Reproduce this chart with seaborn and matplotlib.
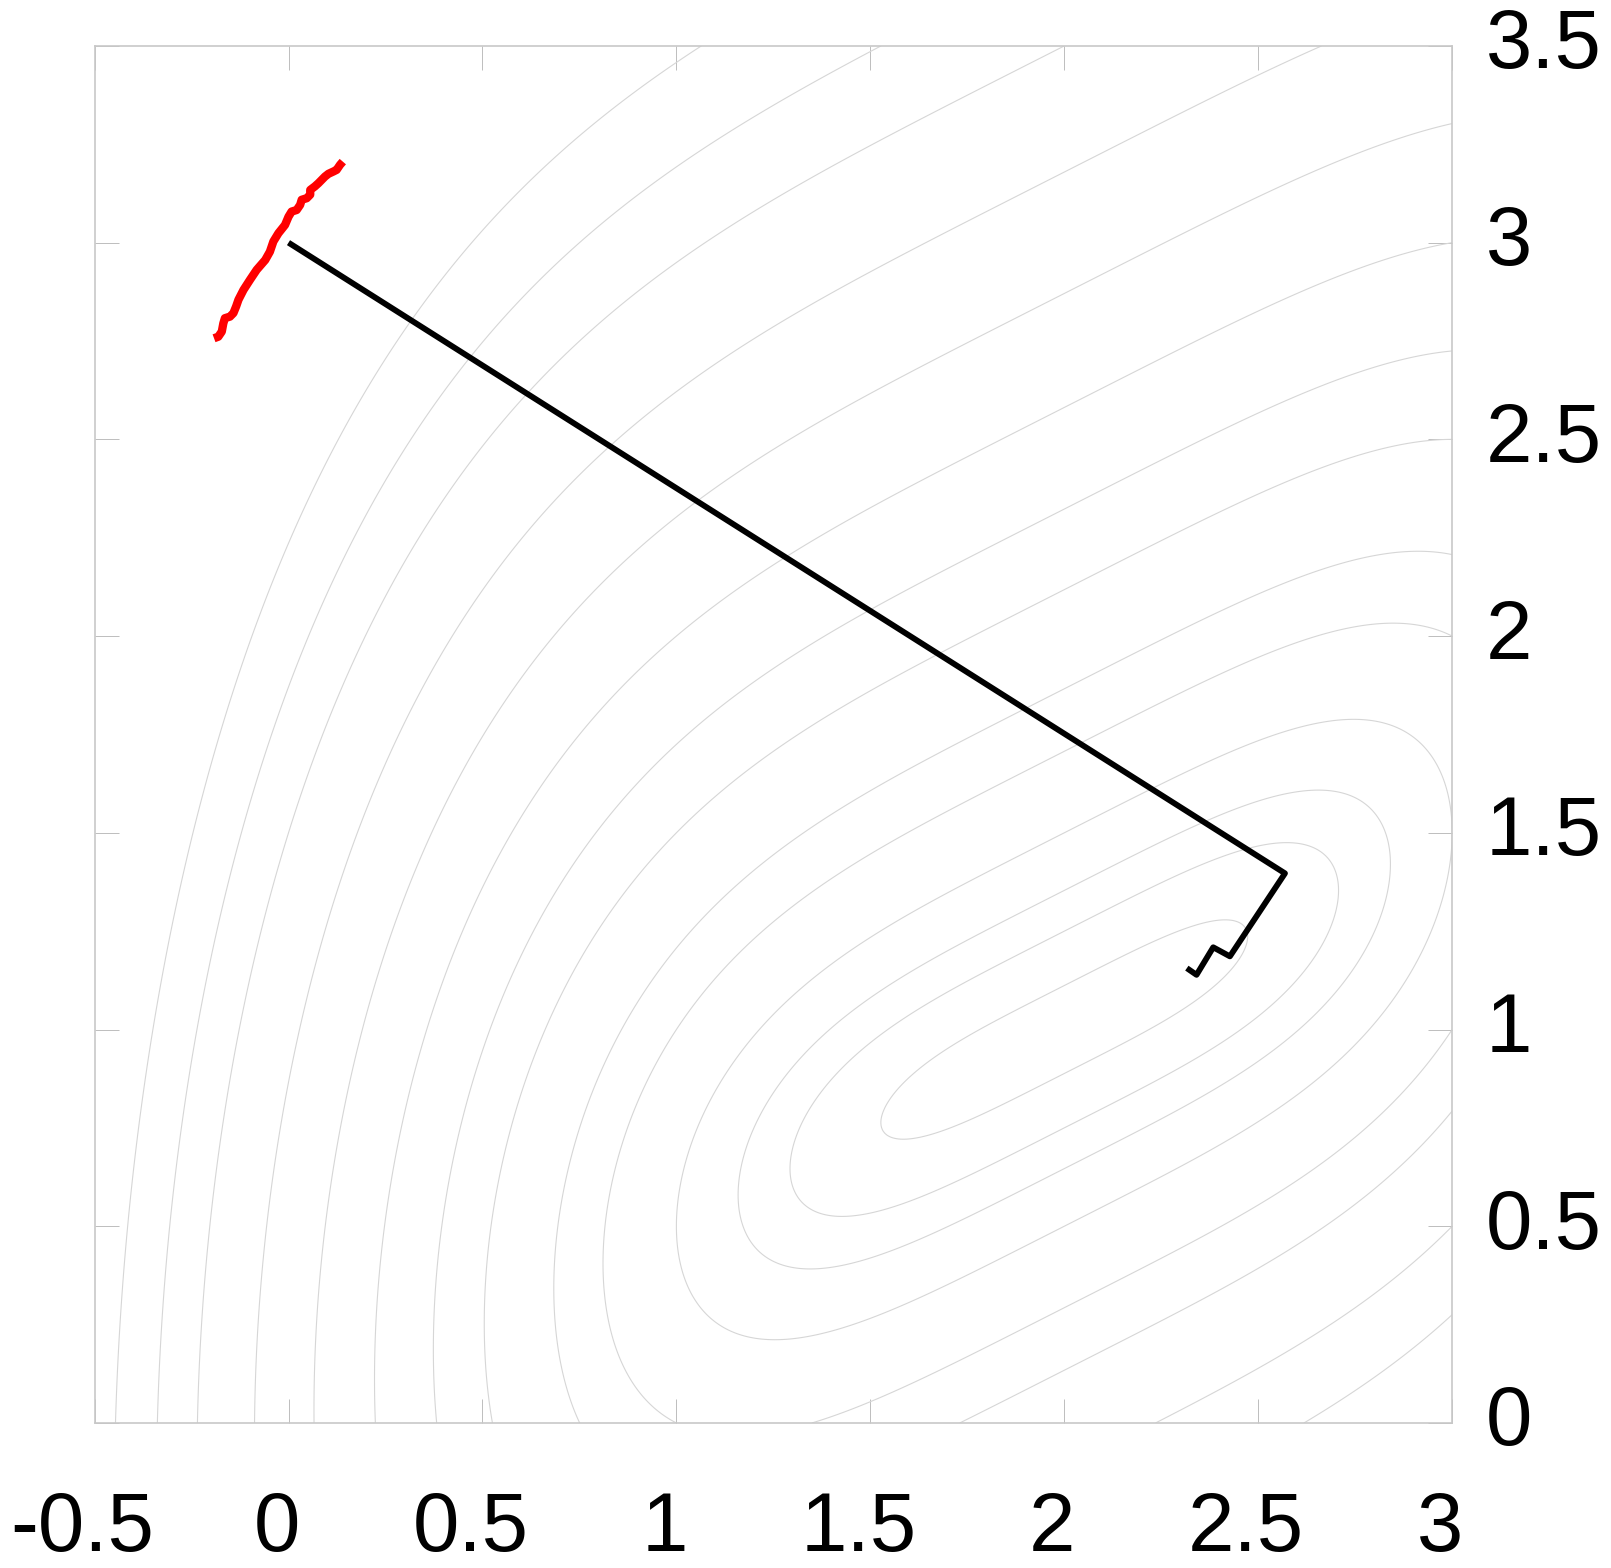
import numpy as np
import seaborn as sns
import matplotlib
matplotlib.use("Agg")
import matplotlib.pyplot as plt
import matplotlib.transforms as mtransforms

# contour levels of the objective f(x, y) = (x - 2)^4 + (x - 2y)^2
levels = [0.05, 0.25, 0.5, 1, 2, 3, 5, 7, 10, 14, 19, 25, 30, 36]

# black search path
black_x = [0.0, 2.569, 2.427, 2.384, 2.341, 2.316]
black_y = [3.0, 1.397, 1.186, 1.209, 1.139, 1.156]

# red (noisy) path
red_x = [-0.192, -0.181, -0.172, -0.168, -0.164, -0.151, -0.142, -0.135, -0.129, -0.116,
         -0.099, -0.082, -0.060, -0.048, -0.039, -0.026, -0.009, 0.000, 0.008, 0.021,
         0.030, 0.034, 0.047, 0.056, 0.056, 0.068, 0.077, 0.081, 0.094, 0.103,
         0.116, 0.124, 0.133, 0.140]
red_y = [2.757, 2.761, 2.774, 2.795, 2.808, 2.812, 2.821, 2.838, 2.855, 2.880,
         2.906, 2.931, 2.956, 2.977, 3.003, 3.024, 3.045, 3.066, 3.079, 3.083,
         3.096, 3.109, 3.113, 3.122, 3.134, 3.143, 3.151, 3.155, 3.168, 3.175,
         3.181, 3.185, 3.198, 3.206]

x_ticks = [-0.5, 0, 0.5, 1, 1.5, 2, 2.5, 3]
x_tick_labels = ['-0.5', '0', '0.5', '1', '1.5', '2', '2.5', '3']
y_ticks = [0, 0.5, 1, 1.5, 2, 2.5, 3, 3.5]
y_tick_labels = ['0', '0.5', '1', '1.5', '2', '2.5', '3', '3.5']


def objective(x, y):
    return (x - 2) ** 4 + (x - 2 * y) ** 2


def main():
    sns.set_style("white")
    plt.rcParams['font.family'] = ['Liberation Sans', 'DejaVu Sans']

    fig = plt.figure(figsize=(16.11, 15.68), dpi=100)
    ax = fig.add_axes([0.0587, 0.0925, 0.8427, 0.8782])

    gx, gy = np.meshgrid(np.linspace(-0.5, 3, 700), np.linspace(0, 3.5, 700))
    ax.contour(gx, gy, objective(gx, gy), levels=levels, colors='#d6d6d6', linewidths=0.8)

    sns.lineplot(x=red_x, y=red_y, sort=False, estimator=None, color='red',
                 linewidth=6, solid_capstyle='butt', ax=ax)
    sns.lineplot(x=black_x, y=black_y, sort=False, estimator=None, color='black',
                 linewidth=4.2, solid_capstyle='butt', ax=ax)

    ax.set_xlim(-0.5, 3)
    ax.set_ylim(0, 3.5)
    ax.set_xticks(x_ticks)
    ax.set_xticklabels(x_tick_labels)
    ax.set_yticks(y_ticks)
    ax.set_yticklabels(y_tick_labels)
    ax.tick_params(axis='both', direction='in', length=17, width=0.7, color='#bdbdbd',
                   labelsize=60, labelcolor='black', top=True, right=True, bottom=True, left=True)
    ax.tick_params(axis='x', pad=48, labelbottom=True, labeltop=False)
    ax.tick_params(axis='y', pad=24, labelright=True, labelleft=False)

    # labels in the original sit a little left / above their ticks
    shift_x = mtransforms.ScaledTranslation(-12 / 100, 0, fig.dpi_scale_trans)
    for lbl in ax.get_xticklabels():
        lbl.set_transform(lbl.get_transform() + shift_x)
    shift_y = mtransforms.ScaledTranslation(0, 8 / 100, fig.dpi_scale_trans)
    for lbl in ax.get_yticklabels():
        lbl.set_horizontalalignment('left')
        lbl.set_transform(lbl.get_transform() + shift_y)

    for sp in ax.spines.values():
        sp.set_color('#c8c8c8')
        sp.set_linewidth(1.2)

    fig.savefig('out.png', dpi=100)


if __name__ == "__main__":
    main()
